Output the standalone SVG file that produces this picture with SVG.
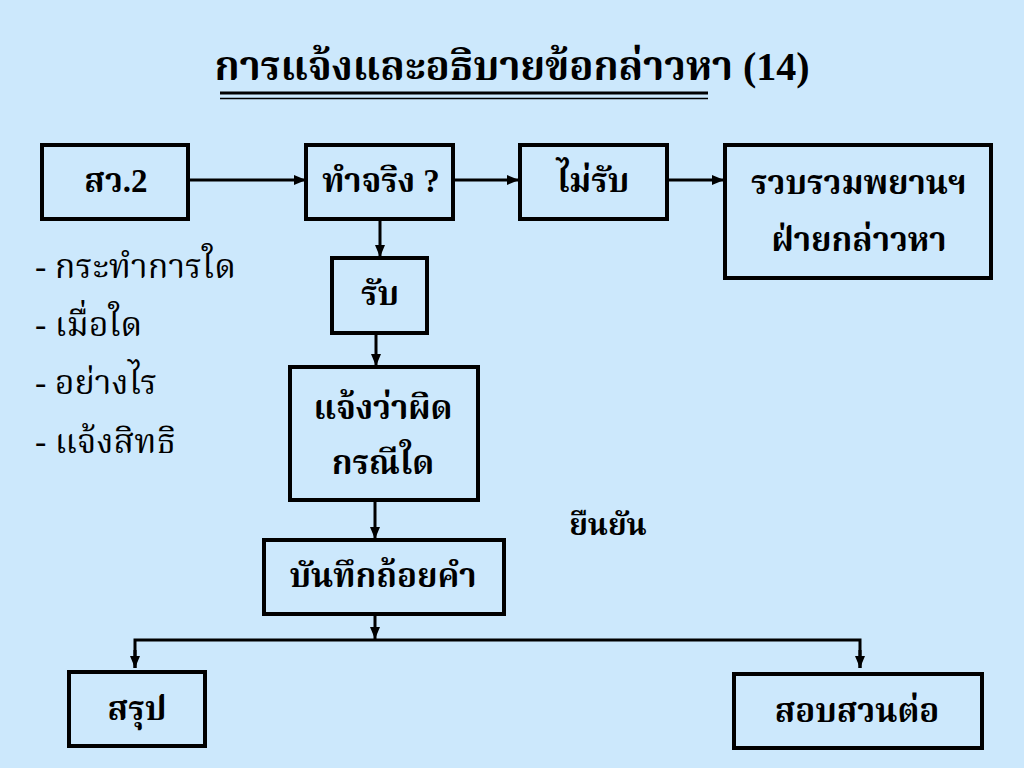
<svg xmlns="http://www.w3.org/2000/svg" width="1024" height="768" viewBox="0 0 1024 768">
<style>
.box{fill:#CCE8FC;stroke:#000;stroke-width:4}
.t{font-family:"Liberation Serif","Noto Serif Thai","Noto Sans Thai",serif;font-weight:bold;font-size:33px;fill:#000;text-anchor:middle}
.l{font-family:"Liberation Serif","Noto Serif Thai","Noto Sans Thai",serif;font-size:34px;fill:#000}
.c{stroke:#000;stroke-width:3;fill:none}
</style>
<defs>
<marker id="ah" markerWidth="12" markerHeight="10" refX="12" refY="5" orient="auto" markerUnits="userSpaceOnUse">
<path d="M0,0 L12,5 L0,10 Z" fill="#000"/>
</marker>
</defs>
<rect width="1024" height="768" fill="#CCE8FC"/>
<g id="title">
<text x="512" y="80" class="t" style="font-size:40px">การแจ้งและอธิบายข้อกล่าวหา  (14)</text>
<line x1="220" y1="93" x2="708" y2="93" stroke="#000" stroke-width="3"/>
<line x1="220" y1="98.5" x2="708" y2="98.5" stroke="#000" stroke-width="1.5"/>
</g>
<g id="connectors">
<line class="c" x1="188" y1="180" x2="306" y2="180" marker-end="url(#ah)"/>
<line class="c" x1="453" y1="180" x2="519" y2="180" marker-end="url(#ah)"/>
<line class="c" x1="667" y1="180" x2="724" y2="180" marker-end="url(#ah)"/>
<line class="c" x1="380" y1="220" x2="380" y2="257" marker-end="url(#ah)"/>
<line class="c" x1="376" y1="333" x2="376" y2="366" marker-end="url(#ah)"/>
<line class="c" x1="375" y1="500" x2="375" y2="539" marker-end="url(#ah)"/>
<line class="c" x1="375" y1="614" x2="375" y2="639" marker-end="url(#ah)"/>
<polyline class="c" points="135,668 135,640 860,640 860,668" style="stroke-linejoin:miter"/>
<line class="c" x1="135" y1="650" x2="135" y2="668" marker-end="url(#ah)"/>
<line class="c" x1="860" y1="650" x2="860" y2="668" marker-end="url(#ah)"/>
</g>
<g id="n-sw2"><rect class="box" x="42" y="145" width="146" height="74"/><text class="t" x="116" y="192">สว.2</text></g>
<g id="n-tamjing"><rect class="box" x="306" y="145" width="147" height="74"/><text class="t" x="381" y="192">ทำจริง ?</text></g>
<g id="n-mairap"><rect class="box" x="520" y="145" width="147" height="74"/><text class="t" x="593" y="192">ไม่รับ</text></g>
<g id="n-ruamruam"><rect class="box" x="725" y="145" width="266" height="133"/><text class="t" x="859" y="194">รวบรวมพยานฯ</text><text class="t" x="859" y="251">ฝ่ายกล่าวหา</text></g>
<g id="n-rap"><rect class="box" x="332" y="258" width="95" height="75"/><text class="t" x="380" y="305">รับ</text></g>
<g id="n-jaeng"><rect class="box" x="290" y="367" width="188" height="133"/><text class="t" x="383" y="419">แจ้งว่าผิด</text><text class="t" x="383" y="474">กรณีใด</text></g>
<g id="n-banthuek"><rect class="box" x="264" y="540" width="240" height="74"/><text class="t" x="383" y="587">บันทึกถ้อยคำ</text></g>
<g id="n-sarup"><rect class="box" x="69" y="672" width="136" height="74"/><text class="t" x="137" y="720">สรุป</text></g>
<g id="n-sopsuan"><rect class="box" x="734" y="674" width="248" height="74"/><text class="t" x="857" y="722">สอบสวนต่อ</text></g>
<g id="label-yuenyan"><text class="t" x="608" y="535" style="font-size:30px">ยืนยัน</text></g>
<g id="list">
<text class="l" x="35" y="278">- กระทำการใด</text>
<text class="l" x="35" y="336">- เมื่อใด</text>
<text class="l" x="35" y="394">- อย่างไร</text>
<text class="l" x="35" y="453">- แจ้งสิทธิ</text>
</g>
</svg>
